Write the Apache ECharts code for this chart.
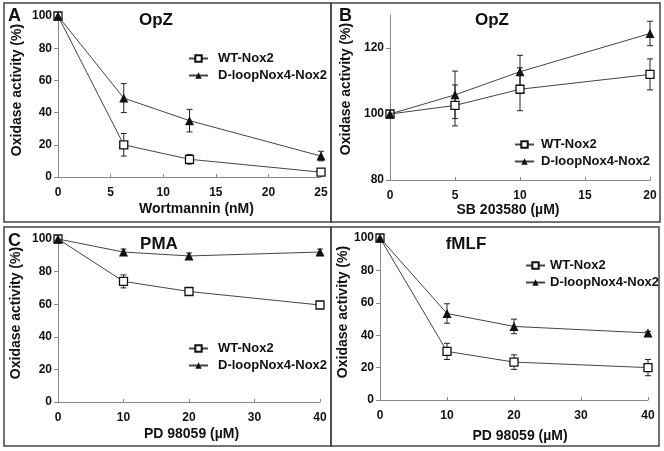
<!DOCTYPE html>
<html><head><meta charset="utf-8">
<script src="https://cdn.jsdelivr.net/npm/echarts@6/dist/echarts.min.js"></script>
<style>html,body{margin:0;padding:0;background:#fff}#c{width:664px;height:451px}</style>
</head><body><div id="c"></div>
<script>
// Panel A: Wortmannin, OpZ
const xA = [0, 6.25, 12.5, 25];
const wtA = [100, 20, 11, 3];
const wtAErr = [0, 7, 3, 2];
const dlA = [100, 49, 35, 13];
const dlAErr = [0, 9, 7, 3];
// Panel B: SB 203580, OpZ
const xB = [0, 5, 10, 20];
const wtB = [100, 102.6, 107.5, 112];
const wtBErr = [0, 6.2, 6.5, 4.7];
const dlB = [100, 105.8, 112.8, 124.4];
const dlBErr = [0, 7.2, 5, 3.7];
// Panel C: PD 98059, PMA
const xC = [0, 10, 20, 40];
const wtC = [100, 74, 67.8, 59.5];
const wtCErr = [0, 4, 2, 2];
const dlC = [100, 92, 89.6, 92];
const dlCErr = [0, 1.8, 1.8, 1.8];
// Panel D: PD 98059, fMLF
const xD = [0, 10, 20, 40];
const wtD = [100, 30, 23.4, 20];
const wtDErr = [0, 5, 4.5, 5];
const dlD = [100, 53.4, 45.4, 41.4];
const dlDErr = [0, 6, 4.5, 1];

const seriesNames = ['WT-Nox2', 'D-loopNox4-Nox2'];
const panelTitles = ['OpZ', 'OpZ', 'PMA', 'fMLF'];
const panelLetters = ['A', 'B', 'C'];
const xNames = ['Wortmannin (nM)', 'SB 203580 (\u00b5M)', 'PD 98059 (\u00b5M)', 'PD 98059 (\u00b5M)'];
const yName = 'Oxidase activity (%)';

const FONT = '"Liberation Sans", Arial, sans-serif';

const grids = [
  {left: 58, top: 16, width: 263, height: 161},
  {left: 390, top: 15, width: 260, height: 165},
  {left: 58, top: 239, width: 262, height: 163},
  {left: 380, top: 238, width: 268, height: 162}
];
const xCfg = [
  {min: 0, max: 25, interval: 5},
  {min: 0, max: 20, interval: 5},
  {min: 0, max: 40, interval: 10},
  {min: 0, max: 40, interval: 10}
];
const yCfg = [
  {min: 0, max: 100, interval: 20},
  {min: 80, max: 130, interval: 20},
  {min: 0, max: 100, interval: 20},
  {min: 0, max: 100, interval: 20}
];
const yNameGap = [34, 37, 35, 29];
const yNamePad = [[0,0,0,13],[0,0,0,17],[0,0,0,15],[0,0,0,14]];
const xNameGap = [25, 20, 25, 29];
const xNamePad = [[0,0,0,14],[0,24,0,0],[0,0,0,5],[0,0,0,12]];

const panels = [
  {x: xA, wt: wtA, wtE: wtAErr, dl: dlA, dlE: dlAErr},
  {x: xB, wt: wtB, wtE: wtBErr, dl: dlB, dlE: dlBErr},
  {x: xC, wt: wtC, wtE: wtCErr, dl: dlC, dlE: dlCErr},
  {x: xD, wt: wtD, wtE: wtDErr, dl: dlD, dlE: dlDErr}
];

function errRender(params, api) {
  const x = api.value(0), y = api.value(1), e = api.value(2);
  if (!e) return null;
  const t = api.coord([x, y + e]);
  const b = api.coord([x, y - e]);
  const cw = 3;
  const st = {stroke: '#222', lineWidth: 1};
  return {type: 'group', children: [
    {type: 'line', shape: {x1: t[0], y1: t[1], x2: b[0], y2: b[1]}, style: st},
    {type: 'line', shape: {x1: t[0] - cw, y1: t[1], x2: t[0] + cw, y2: t[1]}, style: st},
    {type: 'line', shape: {x1: b[0] - cw, y1: b[1], x2: b[0] + cw, y2: b[1]}, style: st}
  ]};
}

const xAxis = [], yAxis = [], series = [];
panels.forEach((p, i) => {
  xAxis.push(Object.assign({
    type: 'value', gridIndex: i,
    name: xNames[i], nameLocation: 'middle', nameGap: xNameGap[i],
    nameTextStyle: {fontFamily: FONT, fontWeight: 'bold', fontSize: 14, color: '#111', padding: xNamePad[i]},
    axisLine: {lineStyle: {color: '#888', width: 1}},
    axisTick: {show: true, inside: true, length: 3, lineStyle: {color: '#888'}},
    axisLabel: {fontFamily: FONT, fontWeight: 'bold', fontSize: 12, color: '#111', margin: 10},
    splitLine: {show: false}
  }, xCfg[i]));
  yAxis.push(Object.assign({
    type: 'value', gridIndex: i,
    name: yName, nameLocation: 'middle', nameRotate: 90, nameGap: yNameGap[i],
    nameTextStyle: {fontFamily: FONT, fontWeight: 'bold', fontSize: 14, color: '#111', padding: yNamePad[i]},
    axisLine: {show: true, lineStyle: {color: '#888', width: 1}},
    axisTick: {show: true, length: 4, lineStyle: {color: '#888'}},
    axisLabel: {fontFamily: FONT, fontWeight: 'bold', fontSize: 12, color: '#111', margin: 6, showMaxLabel: i !== 1},
    splitLine: {show: false}
  }, yCfg[i]));
  const wtData = p.x.map((v, k) => [v, p.wt[k]]);
  const dlData = p.x.map((v, k) => [v, p.dl[k]]);
  series.push({
    type: 'custom', name: 'errWT' + i, xAxisIndex: i, yAxisIndex: i, z: 1,
    renderItem: errRender, data: p.x.map((v, k) => [v, p.wt[k], p.wtE[k]]), silent: true
  });
  series.push({
    type: 'custom', name: 'errDL' + i, xAxisIndex: i, yAxisIndex: i, z: 1,
    renderItem: errRender, data: p.x.map((v, k) => [v, p.dl[k], p.dlE[k]]), silent: true
  });
  series.push({
    type: 'line', name: seriesNames[0], xAxisIndex: i, yAxisIndex: i, z: 3,
    data: wtData, symbol: 'rect', symbolSize: 8,
    lineStyle: {color: '#444', width: 1},
    itemStyle: {color: '#fff', borderColor: '#111', borderWidth: 1.3},
    animation: false
  });
  series.push({
    type: 'line', name: seriesNames[1], xAxisIndex: i, yAxisIndex: i, z: 4,
    data: dlData, symbol: 'triangle', symbolSize: 9,
    lineStyle: {color: '#444', width: 1},
    itemStyle: {color: '#111', borderColor: '#111', borderWidth: 0},
    animation: false
  });
});

const legendPos = [
  {left: 188, top: 52, gap: 5},
  {left: 514, top: 138, gap: 2},
  {left: 188, top: 342, gap: 5},
  {left: 525, top: 259, gap: 0}
];
const legend = legendPos.map(pos => ({
  left: pos.left, top: pos.top, orient: 'vertical', itemGap: 4, padding: 0,
  itemWidth: 19, itemHeight: 8, selectedMode: false,
  data: seriesNames,
  textStyle: {fontFamily: FONT, fontWeight: 'bold', fontSize: 13, color: '#111', padding: [0, 0, 0, pos.gap]}
}));

const titlePos = [
  {x: 156, y: 12}, {x: 492, y: 12}, {x: 159, y: 236}, {x: 466, y: 236}
];
const letterPos = [{x: 8, y: 7}, {x: 339, y: 7}, {x: 8, y: 232}];
const title = [];
panelTitles.forEach((t, i) => title.push({
  text: t, left: titlePos[i].x, top: titlePos[i].y, textAlign: 'center', padding: 0,
  textStyle: {fontFamily: FONT, fontWeight: 'bold', fontSize: 17, color: '#111'}
}));
panelLetters.forEach((t, i) => title.push({
  text: t, left: letterPos[i].x, top: letterPos[i].y, padding: 0,
  textStyle: {fontFamily: FONT, fontWeight: 'bold', fontSize: 18, color: '#111'}
}));

const frameStyle = {fill: 'none', stroke: '#444', lineWidth: 1.5};
const graphic = [
  {type: 'rect', shape: {x: 4, y: 3, width: 327, height: 219}, style: frameStyle, silent: true},
  {type: 'rect', shape: {x: 331, y: 3, width: 329, height: 219}, style: frameStyle, silent: true},
  {type: 'rect', shape: {x: 4, y: 227, width: 327, height: 219}, style: frameStyle, silent: true},
  {type: 'rect', shape: {x: 331, y: 227, width: 328, height: 219}, style: frameStyle, silent: true}
];

const chart = echarts.init(document.getElementById('c'), null, {renderer: 'canvas'});
chart.setOption({
  animation: false,
  backgroundColor: '#fff',
  title: title,
  legend: legend,
  grid: grids,
  xAxis: xAxis,
  yAxis: yAxis,
  series: series,
  graphic: graphic
});
</script>
</body></html>
